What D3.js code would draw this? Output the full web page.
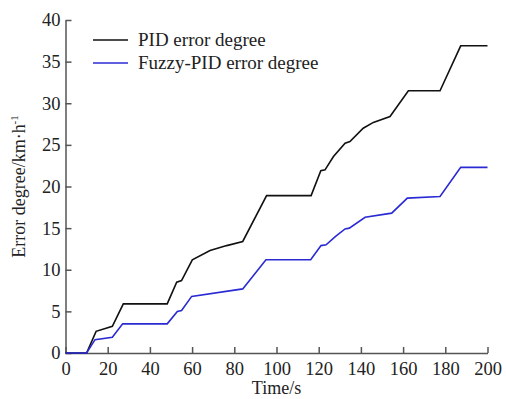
<!DOCTYPE html>
<html>
<head>
<meta charset="utf-8">
<script src="https://cdn.jsdelivr.net/npm/d3@7"></script>
<style>
  body { margin: 0; background: #fff; }
  text { font-family: "Liberation Serif", "Times New Roman", serif; }
</style>
</head>
<body>
<svg width="506" height="399"></svg>
<script>
// values
var pidTime  = [0, 10, 14.5, 22.2, 27.4, 48.2, 52.7, 55, 60.1, 68.5, 76.4, 84, 95.3, 116.4, 121, 123, 127, 132.5, 134.8, 141.1, 145.9, 153.8, 162.5, 177.5, 187.3, 200];
var pidError = [0, 0, 2.6, 3.2, 5.9, 5.9, 8.5, 8.7, 11.2, 12.3, 12.9, 13.4, 18.9, 18.9, 21.9, 22.0, 23.6, 25.2, 25.4, 27.0, 27.7, 28.4, 31.5, 31.5, 36.9, 36.9];

var fuzzyTime  = [0, 10, 14, 22.2, 27.1, 48.2, 53, 55, 59.8, 84, 95, 116.2, 121.1, 123.5, 128, 132.5, 134.5, 142, 154.6, 162, 177.5, 187.3, 200];
var fuzzyError = [0, 0, 1.6, 1.9, 3.5, 3.5, 5.0, 5.1, 6.8, 7.7, 11.2, 11.2, 12.9, 13.0, 14.0, 14.9, 15.0, 16.3, 16.8, 18.6, 18.8, 22.3, 22.3];

var xTicks = [0, 20, 40, 60, 80, 100, 120, 140, 160, 180, 200];
var yTicks = [0, 5, 10, 15, 20, 25, 30, 35, 40];

var seriesNames = ["PID error degree", "Fuzzy-PID error degree"];
var seriesColors = ["#111111", "#2a2ad4"];

var svg = d3.select("svg"),
    width = +svg.attr("width"),
    height = +svg.attr("height");

var margin = {left: 65.5, right: 18.5, top: 20, bottom: 46};

var x = d3.scaleLinear().domain([0, 200]).range([margin.left, width - margin.right]);
var y = d3.scaleLinear().domain([0, 40]).range([height - margin.bottom, margin.top]);

// axes, ticks pointing inward
var xAxis = svg.append("g")
    .attr("transform", "translate(0," + (height - margin.bottom) + ")")
    .call(d3.axisBottom(x).tickValues(xTicks).tickSizeInner(-6).tickSizeOuter(0).tickPadding(9));

var yAxis = svg.append("g")
    .attr("transform", "translate(" + margin.left + ",0)")
    .call(d3.axisLeft(y).tickValues(yTicks).tickSizeInner(-6).tickSizeOuter(0).tickPadding(5));

svg.selectAll(".domain, .tick line").attr("stroke", "#555").attr("stroke-width", 1.5);
svg.selectAll(".tick text").attr("font-size", 18.5).attr("fill", "#222")
    .style("font-family", "'Liberation Serif', serif");

// axis titles
svg.append("text")
    .attr("x", (x(0) + x(200)) / 2)
    .attr("y", 394)
    .attr("text-anchor", "middle")
    .attr("font-size", 18)
    .attr("fill", "#222")
    .text("Time/s");

var ylab = svg.append("text")
    .attr("transform", "translate(25," + (y(0) + y(40)) / 2 + ") rotate(-90)")
    .attr("text-anchor", "middle")
    .attr("font-size", 18)
    .attr("fill", "#222");
ylab.append("tspan").text("Error degree/km·h");
ylab.append("tspan").attr("font-size", 11).attr("dy", -7).text("-1");

// lines
var line = d3.line()
    .x(function(d) { return x(d[0]); })
    .y(function(d) { return y(d[1]); });

var pid = d3.zip(pidTime, pidError);
var fuzzy = d3.zip(fuzzyTime, fuzzyError);

svg.append("path")
    .datum(pid)
    .attr("fill", "none")
    .attr("stroke", seriesColors[0])
    .attr("stroke-width", 1.6)
    .attr("d", line);

svg.append("path")
    .datum(fuzzy)
    .attr("fill", "none")
    .attr("stroke", seriesColors[1])
    .attr("stroke-width", 1.6)
    .attr("d", line);

// legend
var legend = svg.append("g")
    .selectAll("g")
    .data(seriesNames)
    .enter().append("g")
    .attr("transform", function(d, i) { return "translate(93," + (40 + i * 23) + ")"; });

legend.append("line")
    .attr("x1", 0).attr("x2", 35)
    .attr("stroke", function(d, i) { return seriesColors[i]; })
    .attr("stroke-width", 1.6);

legend.append("text")
    .attr("x", 45)
    .attr("dy", "0.32em")
    .attr("font-size", 19)
    .attr("fill", "#222")
    .text(function(d) { return d; });
</script>
</body>
</html>
